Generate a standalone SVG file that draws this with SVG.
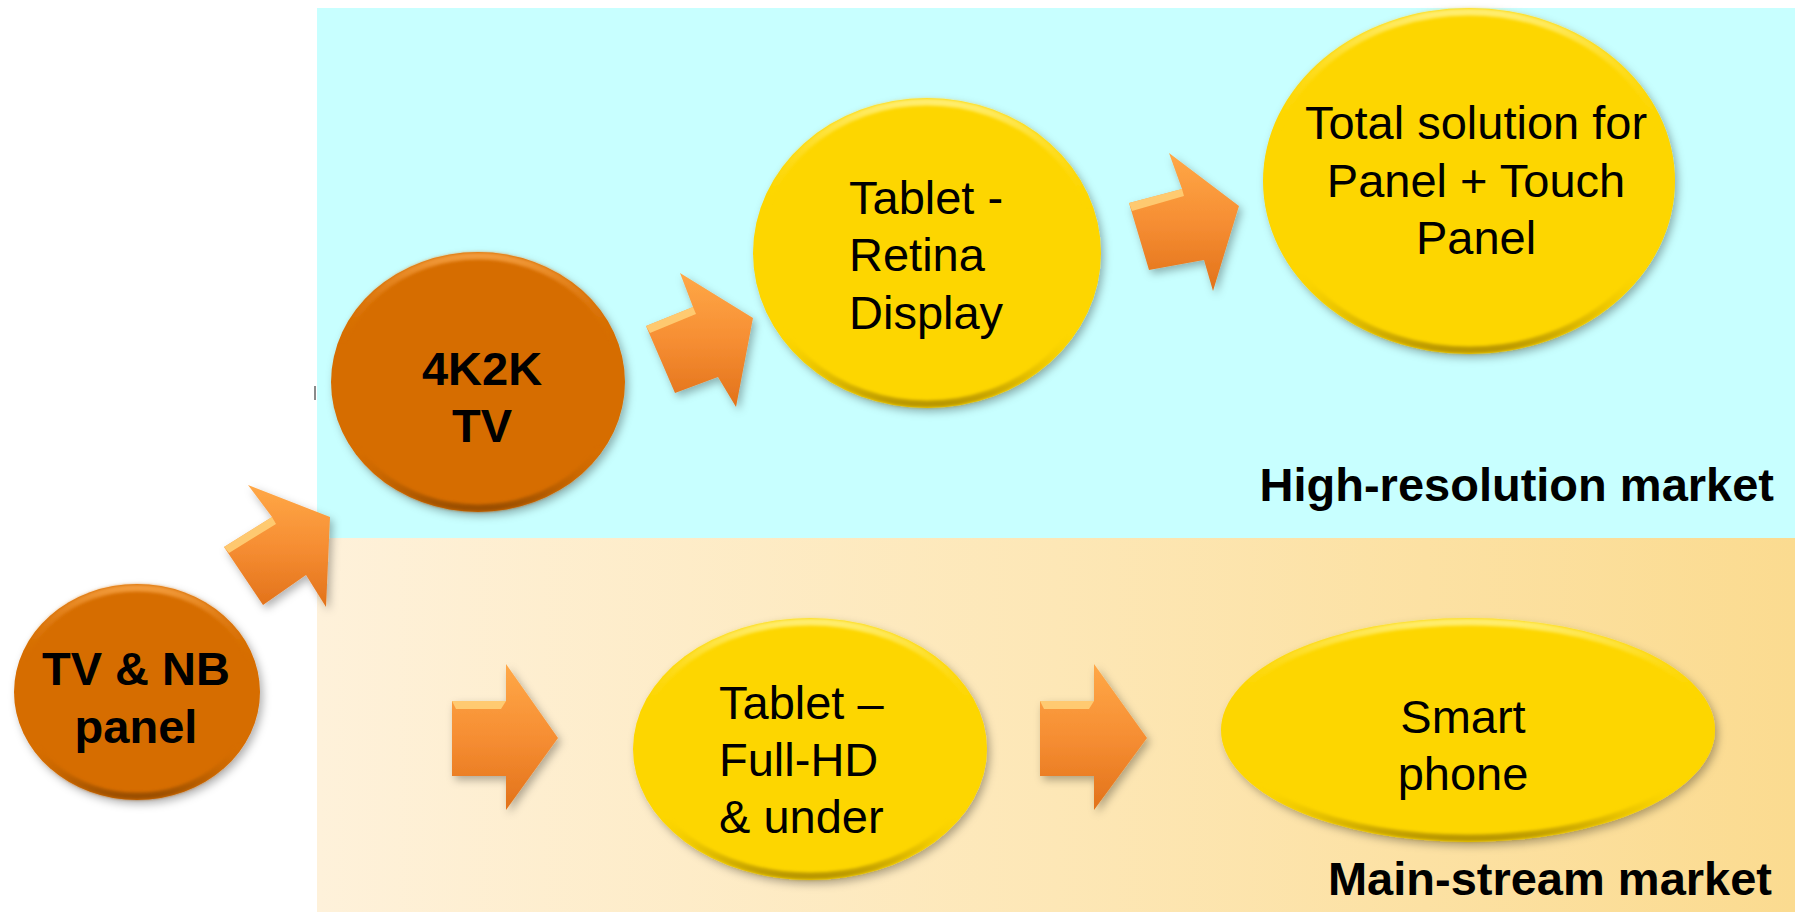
<svg xmlns="http://www.w3.org/2000/svg" width="1795" height="912" viewBox="0 0 1795 912">
<style>
  .lbl{font-family:"Liberation Sans",Arial,sans-serif;font-size:47px;fill:#000}
  .b{font-weight:bold}
  .mid{text-anchor:middle}
  .end{text-anchor:end}
  .arrow{fill:url(#arrowGrad);filter:url(#shadow)}
  .hl{fill:#FFD27A;opacity:0.85}
  .orange{fill:#D66D00;filter:url(#shadow)}
  .yellow{fill:#FDD603;filter:url(#shadow)}
  .bevO{fill:none;stroke:url(#bevelOrange);stroke-width:7;filter:url(#soft)}
  .bevY{fill:none;stroke:url(#bevelYellow);stroke-width:7;filter:url(#soft)}
</style>
<defs>
  <linearGradient id="peach" x1="0" y1="0" x2="1" y2="0">
    <stop offset="0" stop-color="#FEF1DA"/>
    <stop offset="0.5" stop-color="#FDE7B6"/>
    <stop offset="1" stop-color="#FBDB90"/>
  </linearGradient>
  <linearGradient id="arrowGrad" x1="0" y1="0" x2="0" y2="1">
    <stop offset="0" stop-color="#FFA847"/>
    <stop offset="0.5" stop-color="#F68E33"/>
    <stop offset="1" stop-color="#E2721A"/>
  </linearGradient>
  <linearGradient id="bevelOrange" x1="0" y1="0" x2="0" y2="1">
    <stop offset="0" stop-color="#F29A3A"/>
    <stop offset="0.35" stop-color="#D66D00" stop-opacity="0"/>
    <stop offset="0.75" stop-color="#D66D00" stop-opacity="0"/>
    <stop offset="1" stop-color="#9A4E00"/>
  </linearGradient>
  <linearGradient id="bevelYellow" x1="0" y1="0" x2="0" y2="1">
    <stop offset="0" stop-color="#FFEE70"/>
    <stop offset="0.35" stop-color="#FDD603" stop-opacity="0"/>
    <stop offset="0.75" stop-color="#FDD603" stop-opacity="0"/>
    <stop offset="1" stop-color="#B89600"/>
  </linearGradient>
  <filter id="shadow" x="-20%" y="-20%" width="140%" height="140%">
    <feDropShadow dx="3" dy="4" stdDeviation="4" flood-color="#000" flood-opacity="0.3"/>
  </filter>
  <filter id="soft" x="-10%" y="-10%" width="120%" height="120%">
    <feGaussianBlur stdDeviation="1.5"/>
  </filter>
</defs>

<rect x="0" y="0" width="1795" height="912" fill="#FFFFFF"/>
<g id="panels">
  <rect id="high-res-panel" x="317" y="8" width="1478" height="530" fill="#C8FFFF"/>
  <rect id="main-stream-panel" x="317" y="538" width="1478" height="374" fill="url(#peach)"/>
  <line x1="315" y1="386" x2="315" y2="400" stroke="#8A8A8A" stroke-width="2"/>
</g>

<g id="connectors">
  <g id="arrow-tvnb-4k2k">
    <polygon class="arrow" points="224,547 272,517 248,485 330,517 326,607 306,575 263,605"/>
    <polygon class="hl" points="224,547 272,517 276,524 229,553"/>
  </g>
  <g id="arrow-4k2k-retina">
    <polygon class="arrow" points="646,326 693,307 680,273 753,318 736,407 718,377 675,393"/>
    <polygon class="hl" points="646,326 693,307 696,314 650,333"/>
  </g>
  <g id="arrow-retina-total">
    <polygon class="arrow" points="1129,203 1182,189 1169,153 1239,206 1213,291 1204,260 1149,270"/>
    <polygon class="hl" points="1129,203 1182,189 1184,196 1132,211"/>
  </g>
  <g id="arrow-to-fullhd">
    <polygon class="arrow" points="452,701 506,701 506,664 558,738 506,810 506,776 452,776"/>
    <polygon class="hl" points="452,701 506,701 501,709 456,709"/>
  </g>
  <g id="arrow-fullhd-smart">
    <polygon class="arrow" points="1040,701 1094,701 1094,664 1147,738 1094,810 1094,776 1040,776"/>
    <polygon class="hl" points="1040,701 1094,701 1089,709 1044,709"/>
  </g>
</g>

<g id="node-tvnb">
  <ellipse class="orange" cx="137" cy="692" rx="123" ry="108"/>
  <ellipse class="bevO" cx="137" cy="692" rx="119" ry="104"/>
  <text class="lbl b mid" x="136" y="685">TV &amp; NB</text>
  <text class="lbl b mid" x="136" y="743">panel</text>
</g>

<g id="node-4k2k">
  <ellipse class="orange" cx="478" cy="382" rx="147" ry="130"/>
  <ellipse class="bevO" cx="478" cy="382" rx="143" ry="126"/>
  <text class="lbl b mid" x="482" y="385">4K2K</text>
  <text class="lbl b mid" x="482" y="442">TV</text>
</g>

<g id="node-retina">
  <ellipse class="yellow" cx="927" cy="253" rx="174" ry="155"/>
  <ellipse class="bevY" cx="927" cy="253" rx="170" ry="151"/>
  <text class="lbl" x="849" y="214">Tablet -</text>
  <text class="lbl" x="849" y="271">Retina</text>
  <text class="lbl" x="849" y="329">Display</text>
</g>

<g id="node-total">
  <ellipse class="yellow" cx="1469" cy="181" rx="206" ry="173"/>
  <ellipse class="bevY" cx="1469" cy="181" rx="202" ry="169"/>
  <text class="lbl mid" x="1476" y="139">Total solution for</text>
  <text class="lbl mid" x="1476" y="197">Panel + Touch</text>
  <text class="lbl mid" x="1476" y="254">Panel</text>
</g>

<g id="node-fullhd">
  <ellipse class="yellow" cx="810" cy="749" rx="177" ry="131"/>
  <ellipse class="bevY" cx="810" cy="749" rx="173" ry="127"/>
  <text class="lbl" x="719" y="719">Tablet –</text>
  <text class="lbl" x="719" y="776">Full-HD</text>
  <text class="lbl" x="719" y="833">&amp; under</text>
</g>

<g id="node-smart">
  <ellipse class="yellow" cx="1468" cy="730" rx="247" ry="112"/>
  <ellipse class="bevY" cx="1468" cy="730" rx="243" ry="108"/>
  <text class="lbl mid" x="1463" y="733">Smart</text>
  <text class="lbl mid" x="1463" y="790">phone</text>
</g>

<g id="labels">
  <text class="lbl b end" x="1774" y="501" font-size="48">High-resolution market</text>
  <text class="lbl b end" x="1772" y="895">Main-stream market</text>
</g>
</svg>
